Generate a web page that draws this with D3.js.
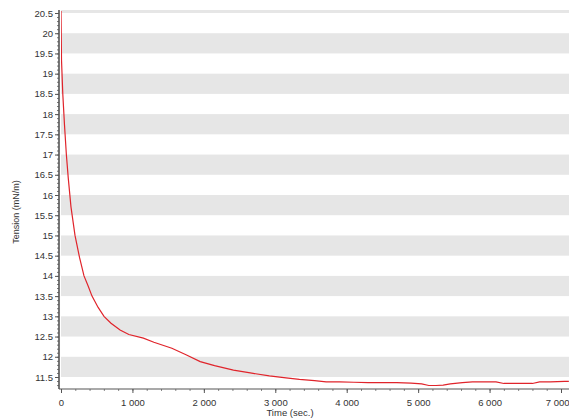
<!DOCTYPE html>
<meta charset="utf-8">
<script src="https://d3js.org/d3.v7.min.js"></script>
<style>
  body { margin: 0; background: #fff; }
  text { font-family: "Liberation Sans", Arial, sans-serif; fill: #333; }
</style>
<div id="chart"></div>
<script>
  // time (sec.) and tension (mN/m)
  var times = [0, 7, 25, 49, 75, 102, 140, 196, 260, 322, 380, 434, 520, 602, 700, 827, 950,
    1154, 1300, 1552, 1750, 1949, 2150, 2414, 2650, 2917, 3150, 3338, 3550, 3712, 3900, 4100,
    4300, 4500, 4700, 4900, 5050, 5150, 5250, 5350, 5450, 5620, 5760, 5900, 6090, 6200, 6400,
    6600, 6700, 6850, 7050, 7110];
  var tension = [20.55, 19.34, 18.5, 17.73, 17.0, 16.41, 15.7, 15.0, 14.45, 14.0, 13.75, 13.5,
    13.22, 13.0, 12.83, 12.66, 12.55, 12.46, 12.36, 12.21, 12.05, 11.88, 11.78, 11.67, 11.6,
    11.53, 11.48, 11.44, 11.41, 11.38, 11.38, 11.37, 11.36, 11.36, 11.36, 11.35, 11.33, 11.29,
    11.29, 11.3, 11.33, 11.36, 11.38, 11.38, 11.38, 11.34, 11.34, 11.34, 11.38, 11.38, 11.39, 11.39];
  var xTicks = [0, 1000, 2000, 3000, 4000, 5000, 6000, 7000];
  var yTicks = [11.5, 12, 12.5, 13, 13.5, 14, 14.5, 15, 15.5, 16, 16.5, 17, 17.5, 18, 18.5, 19, 19.5, 20, 20.5];
  var bandTops = [12, 13, 14, 15, 16, 17, 18, 19, 20, 21];

  var W = 569, H = 419;
  var pLeft = 61, pRight = 569, pTop = 10, pBottom = 389;

  var svg = d3.select("#chart").append("svg")
    .attr("width", W).attr("height", H);

  var x = d3.scaleLinear().domain([0, 7112]).range([pLeft, pRight]);
  var y = d3.scaleLinear().domain([11.5, 20.5]).range([377, 13]);

  svg.append("clipPath").attr("id", "plot")
    .append("rect").attr("x", pLeft).attr("y", pTop)
    .attr("width", pRight - pLeft).attr("height", pBottom - pTop);

  var plot = svg.append("g").attr("clip-path", "url(#plot)");

  // alternating grey bands
  plot.selectAll("rect.band").data(bandTops).enter().append("rect")
    .attr("class", "band")
    .attr("x", pLeft).attr("width", pRight - pLeft)
    .attr("y", function (d) { return y(d); })
    .attr("height", function (d) { return y(d - 0.5) - y(d); })
    .attr("fill", "#e6e6e6");

  // curve
  var pts = times.map(function (t, i) { return [t, tension[i]]; });
  plot.append("path")
    .datum(pts)
    .attr("fill", "none")
    .attr("stroke", "#e0242b")
    .attr("stroke-width", 1.2)
    .attr("d", d3.line()
      .x(function (d) { return x(d[0]); })
      .y(function (d) { return y(d[1]); }));

  // Y axis: minor ticks every 0.1, then majors with labels
  var yMinor = svg.append("g").attr("transform", "translate(59,0)");
  yMinor.call(d3.axisLeft(y).tickValues(d3.range(113, 206).map(function (v) { return v / 10; }))
    .tickSize(2).tickFormat(""));
  yMinor.select(".domain").remove();
  yMinor.selectAll(".tick line").attr("stroke", "#777");
  var yMajor = svg.append("g").attr("transform", "translate(59,0)");
  yMajor.call(d3.axisLeft(y).tickValues(yTicks).tickSize(4).tickPadding(2)
    .tickFormat(function (d) { return String(d); }));
  yMajor.select(".domain").remove();
  yMajor.selectAll("text").attr("font-size", 9.5).attr("fill", "#444");
  yMajor.selectAll(".tick line").attr("stroke", "#555");
  svg.append("line").attr("x1", 59).attr("x2", 59).attr("y1", pTop).attr("y2", pBottom)
    .attr("stroke", "#555").attr("stroke-width", 1.6);

  // X axis
  var xMinor = svg.append("g").attr("transform", "translate(0," + pBottom + ")");
  xMinor.call(d3.axisBottom(x).tickValues(d3.range(0, 7200, 200)).tickSize(2).tickFormat(""));
  xMinor.select(".domain").remove();
  xMinor.selectAll(".tick line").attr("stroke", "#888");
  var xMajor = svg.append("g").attr("transform", "translate(0," + pBottom + ")");
  xMajor.call(d3.axisBottom(x).tickValues(xTicks).tickSize(4).tickPadding(6)
    .tickFormat(function (d) { return d3.format(",")(d).replace(",", " "); }));
  xMajor.select(".domain").remove();
  xMajor.selectAll("text").attr("font-size", 9.5).attr("fill", "#444");
  xMajor.selectAll(".tick line").attr("stroke", "#555");
  // keep the last label inside the window
  xMajor.selectAll(".tick").filter(function (d) { return d === 7000; })
    .select("text").attr("text-anchor", "end").attr("x", 8);
  svg.append("line").attr("x1", 59).attr("x2", pRight).attr("y1", pBottom).attr("y2", pBottom)
    .attr("stroke", "#555").attr("stroke-width", 1.2);

  // axis titles
  svg.append("text").attr("x", 290).attr("y", 416).attr("text-anchor", "middle")
    .attr("font-size", 9.5).text("Time (sec.)");
  svg.append("text").attr("transform", "translate(19,212) rotate(-90)")
    .attr("text-anchor", "middle").attr("font-size", 9).text("Tension (mN/m)");
</script>
